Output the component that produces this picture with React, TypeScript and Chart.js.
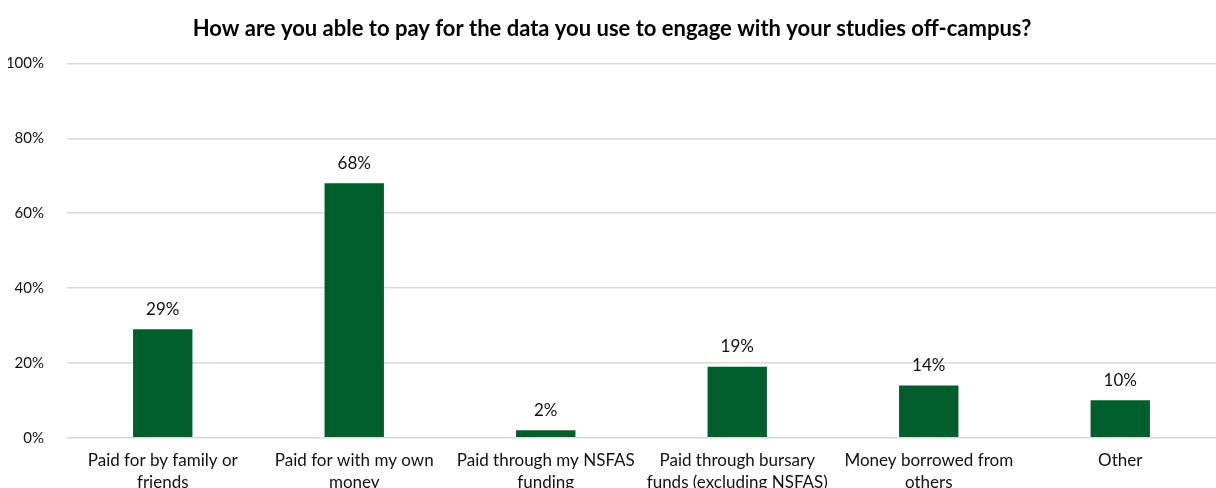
import React, { useEffect, useRef } from "react";
import { Chart, registerables } from "chart.js";

Chart.register(...registerables);

const title = "How are you able to pay for the data you use to engage with your studies off-campus?";
const categories: string[][] = [
  ["Paid for by family or", "friends"],
  ["Paid for with my own", "money"],
  ["Paid through my NSFAS", "funding"],
  ["Paid through bursary", "funds (excluding NSFAS)"],
  ["Money borrowed from", "others"],
  ["Other"],
];
const values: number[] = [29, 68, 2, 19, 14, 10];
const yTicks: number[] = [0, 20, 40, 60, 80, 100];

const FONT = "Lato, 'Open Sans', sans-serif";

const valueLabels = {
  id: "valueLabels",
  afterDatasetsDraw(chart: any) {
    const ctx = chart.ctx;
    const meta = chart.getDatasetMeta(0);
    ctx.save();
    ctx.font = `17px ${FONT}`;
    ctx.fillStyle = "#111";
    ctx.textAlign = "center";
    ctx.textBaseline = "middle";
    meta.data.forEach((el: any, i: number) => {
      ctx.fillText(`${values[i]}%`, el.x, el.y - 20);
    });
    ctx.restore();
  },
};

export default function App() {
  const ref = useRef<HTMLCanvasElement | null>(null);
  useEffect(() => {
    if (!ref.current) return;
    const chart = new Chart(ref.current, {
      type: "bar",
      data: {
        labels: categories,
        datasets: [
          {
            data: values,
            backgroundColor: "#005E2C",
            borderWidth: 0,
            barPercentage: 0.31,
            categoryPercentage: 1,
          },
        ],
      },
      options: {
        responsive: false,
        animation: false,
        layout: { padding: { left: 8, right: 0, top: 0, bottom: 0 } },
        plugins: {
          legend: { display: false },
          tooltip: { enabled: false },
          title: {
            display: true,
            text: title,
            color: "#000",
            font: { family: FONT, size: 22, weight: "bold" },
            padding: { top: 16, bottom: 21 },
          },
        },
        scales: {
          x: {
            grid: { display: false, drawTicks: false },
            border: { display: false },
            ticks: {
              color: "#111",
              font: { family: FONT, size: 17, lineHeight: 1.3 },
              padding: 12,
              maxRotation: 0,
              autoSkip: false,
            },
          },
          y: {
            min: 0,
            max: 100,
            afterBuildTicks: (axis: any) => {
              axis.ticks = yTicks.map((v) => ({ value: v }));
            },
            afterFit: (axis: any) => {
              axis.width = 59;
            },
            grid: { color: "#d9d9d9", lineWidth: 1.5, drawTicks: false },
            border: { display: false },
            ticks: {
              color: "#111",
              font: { family: FONT, size: 15 },
              padding: 23,
              callback: (v: any) => `${v}%`,
            },
          },
        },
      },
      plugins: [valueLabels],
    });
    return () => chart.destroy();
  }, []);
  return (
    <div
      style={{
        position: "fixed",
        left: 0,
        top: 0,
        width: 1216,
        height: 488,
        overflow: "hidden",
        background: "#fff",
      }}
    >
      <canvas ref={ref} width={1216} height={506} style={{ display: "block" }} />
    </div>
  );
}
